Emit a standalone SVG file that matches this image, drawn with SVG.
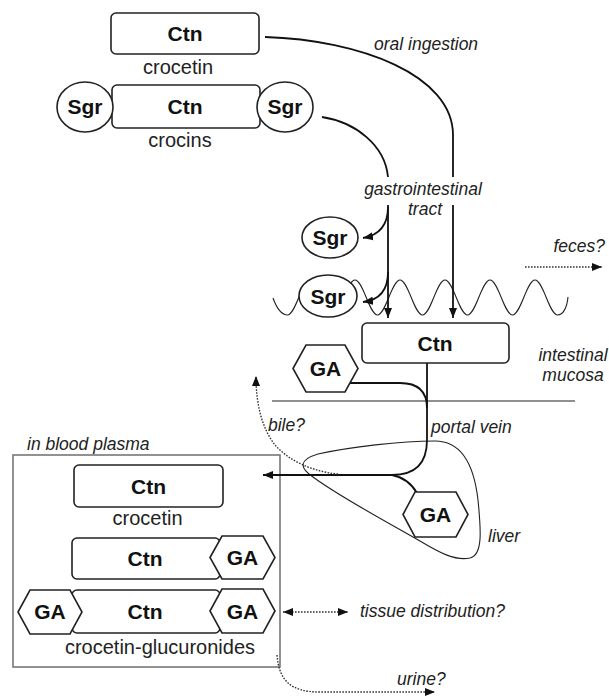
<svg xmlns="http://www.w3.org/2000/svg" width="609" height="698" viewBox="0 0 609 698">
<style>
text{font-family:"Liberation Sans",Arial,sans-serif;fill:#111}
.b{font-weight:bold;font-size:21px;text-anchor:middle}
.r{font-size:20px;text-anchor:middle;fill:#222}
.i{font-style:italic;font-size:17.5px;fill:#222}
.box{fill:#fff;stroke:#222;stroke-width:1.6}
.sh{fill:#fff;stroke:#222;stroke-width:1.6}
.thin{fill:none;stroke:#222;stroke-width:1.1}
.con{fill:none;stroke:#111;stroke-width:1.8}
.dot{fill:none;stroke:#333;stroke-width:1.4;stroke-dasharray:1.6 1.4}
</style>
<defs>
<marker id="ah" viewBox="0 0 10 10" refX="10" refY="5" markerWidth="10" markerHeight="10" markerUnits="userSpaceOnUse" orient="auto-start-reverse"><path d="M0,1 L10,5 L0,9 z" fill="#111"/></marker>
</defs>

<g id="background">
<path id="villi" class="thin" d="M273 298 C277 309 282 315 287.5 315 C295.7 315 301.8 280 310 280 C318.2 280 324.3 315 332.5 315 C340.7 315 346.8 280 355 280 C363.2 280 369.3 315 377.5 315 C385.7 315 391.8 280 400 280 C408.2 280 414.3 315 422.5 315 C430.7 315 436.8 280 445 280 C453.2 280 459.3 315 467.5 315 C475.7 315 481.8 280 490 280 C498.2 280 504.3 315 512.5 315 C520.7 315 526.8 280 535 280 C543.2 280 549.3 315 557.5 315 C563 315 567 308 568 297"/>
<line class="thin" x1="272" y1="401" x2="575" y2="401"/>
<path id="liver-shape" class="thin" d="M313 477 C300 468 298 460 318 454 C350 447 400 441 435 441 C462 441 474 465 478 500 C481 530 483 555 470 558 C455 561 440 553 420 541 C380 518 340 497 313 477 Z"/>
<rect id="plasma-box" x="13" y="455" width="267" height="212" fill="none" stroke="#777" stroke-width="1.6"/>
</g>

<g id="connectors">
<path class="con" d="M265 37 C360 40 453 75 453 135 L453 177"/>
<path class="con" d="M453 205 L453 318" marker-end="url(#ah)"/>
<path class="con" d="M322 117 C355 122 385 145 388 177"/>
<path class="con" d="M388 205 L388 318" marker-end="url(#ah)"/>
<path class="con" d="M388 207 C388 225 380 235 363 238" marker-end="url(#ah)"/>
<path class="con" d="M388 272 C388 290 380 300 363 302" marker-end="url(#ah)"/>
<path class="con" d="M347 383 H400 Q427 383 427 408"/>
<path class="con" d="M427 363 V440 Q427 475 392 475 H263" marker-end="url(#ah)"/>
<path class="con" d="M392 475 Q408 478 417 493"/>
<path class="dot" d="M338 474 C315 472 290 462 275 445 C262 428 256 405 256 376" marker-end="url(#ah)"/>
<path class="dot" d="M525 267 L602 267" marker-end="url(#ah)"/>
<path class="dot" d="M283 612 L348 612" marker-start="url(#ah)" marker-end="url(#ah)"/>
<path class="dot" d="M277 655 C279 680 290 692 320 692 L435 692" marker-end="url(#ah)"/>
</g>

<g id="crocetin-top">
<rect class="box" x="111" y="13" width="148" height="41" rx="5"/>
<text class="b" x="185" y="41">Ctn</text>
<text class="r" x="178" y="74">crocetin</text>
</g>

<g id="crocins">
<rect class="box" x="112" y="85" width="148" height="43" rx="5"/>
<ellipse class="sh" cx="85" cy="107" rx="28" ry="25"/>
<ellipse class="sh" cx="285" cy="107" rx="28" ry="25"/>
<text class="b" x="185" y="114">Ctn</text>
<text class="b" x="85" y="114">Sgr</text>
<text class="b" x="285" y="114">Sgr</text>
<text class="r" x="180" y="147">crocins</text>
</g>

<g id="sugar-1">
<ellipse class="sh" cx="330" cy="237.5" rx="28" ry="20.5"/>
<text class="b" x="330" y="245">Sgr</text>
</g>

<g id="sugar-2">
<ellipse class="sh" cx="328" cy="296" rx="29" ry="21"/>
<text class="b" x="328" y="303.5">Sgr</text>
</g>

<g id="crocetin-mucosa">
<rect class="box" x="362" y="323" width="147" height="40" rx="5"/>
<text class="b" x="435" y="351">Ctn</text>
</g>

<g id="ga-mucosa">
<polygon class="sh" points="293,368.5 306,345 345,345 358,368.5 345,392 306,392"/>
<text class="b" x="325.5" y="376">GA</text>
</g>

<g id="ga-liver">
<polygon class="sh" points="403,514.5 415,492 456,492 468,514.5 456,537 415,537"/>
<text class="b" x="435.5" y="522">GA</text>
</g>

<g id="crocetin-plasma">
<rect class="box" x="74" y="465" width="149" height="42" rx="5"/>
<text class="b" x="148.5" y="494">Ctn</text>
<text class="r" x="147.5" y="525">crocetin</text>
</g>

<g id="mono-glucuronide">
<rect class="box" x="72" y="538" width="148" height="41" rx="5"/>
<polygon class="sh" points="210,557.5 222,536 263,536 275,557.5 263,579 222,579"/>
<text class="b" x="145" y="565.5">Ctn</text>
<text class="b" x="242.5" y="565">GA</text>
</g>

<g id="di-glucuronide">
<rect class="box" x="72" y="590" width="148" height="43" rx="5"/>
<polygon class="sh" points="18,612 30,590 70,590 82,612 70,634 30,634"/>
<polygon class="sh" points="210,611 222,589 263,589 275,611 263,633 222,633"/>
<text class="b" x="145" y="619">Ctn</text>
<text class="b" x="50" y="619">GA</text>
<text class="b" x="242.5" y="618.5">GA</text>
<text class="r" x="160" y="654">crocetin-glucuronides</text>
</g>

<g id="labels">
<text class="i" x="374" y="50">oral ingestion</text>
<text class="i" x="423" y="195" text-anchor="middle" font-size="17">gastrointestinal</text>
<text class="i" x="425" y="215" text-anchor="middle" font-size="17">tract</text>
<text class="i" x="605" y="252" text-anchor="end">feces?</text>
<text class="i" x="573" y="361" text-anchor="middle">intestinal</text>
<text class="i" x="573" y="381" text-anchor="middle">mucosa</text>
<text class="i" x="268" y="431">bile?</text>
<text class="i" x="431" y="433">portal vein</text>
<text class="i" x="27" y="450">in blood plasma</text>
<text class="i" x="488" y="542">liver</text>
<text class="i" x="360" y="617">tissue distribution?</text>
<text class="i" x="397" y="685">urine?</text>
</g>
</svg>
